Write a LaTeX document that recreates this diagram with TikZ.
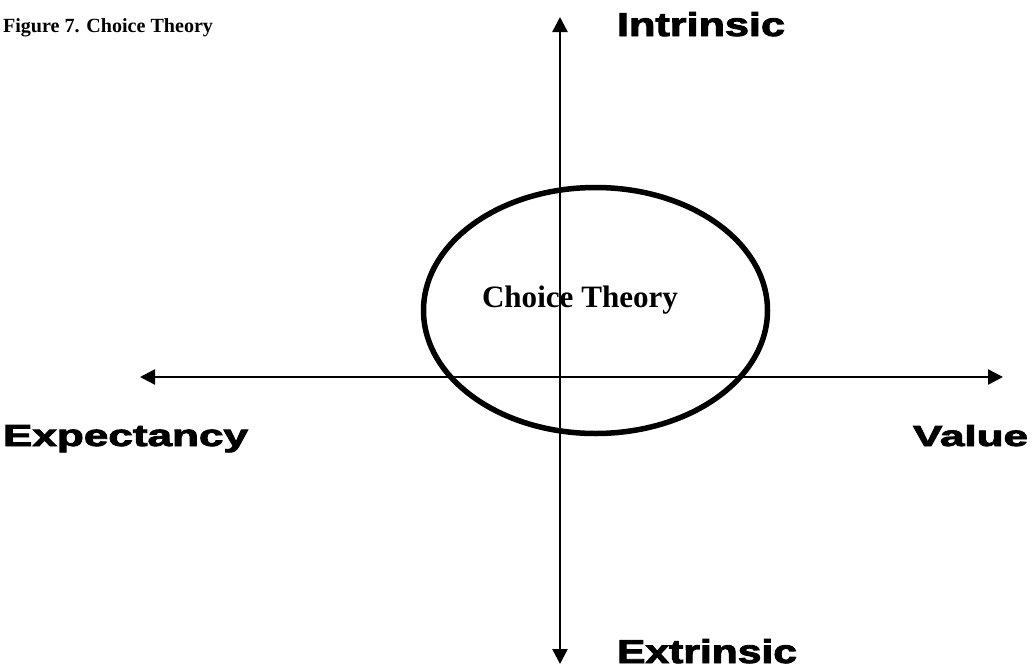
\documentclass[tikz,border=0pt]{standalone}
\usepackage{fontspec}
\usepackage{graphicx}
\setmainfont{Liberation Serif}
\newfontfamily\blkfont{Liberation Sans}[BoldFeatures={FakeBold=2.5}]
\usetikzlibrary{arrows.meta}
\newcommand\biglabel[3]{\resizebox{#1pt}{#2pt}{\blkfont\bfseries #3}}
\tikzset{
  axis/.style={line width=2.5pt,-{Triangle[length=15pt,width=15pt]}},
  lbl/.style={anchor=base west,inner sep=0pt,outer sep=0pt},
}
\begin{document}
\begin{tikzpicture}[x=1pt,y=-1pt]
\useasboundingbox[fill=white] (0,0) rectangle (1034,672);
% axes
\coordinate (top) at (560,17);
\coordinate (bot) at (560,664);
\coordinate (left) at (140,377);
\coordinate (right) at (1003,377);
\coordinate (center) at (560,377);
\draw[axis] (center) -- (top);
\draw[axis] (center) -- (bot);
\draw[axis] (center) -- (left);
\draw[axis] (center) -- (right);
% ellipse
\draw[line width=5.5pt] (595.5,310.5) ellipse [x radius=172, y radius=123];
% labels
\node[lbl] (title) at (3,32) {\resizebox{210pt}{!}{\bfseries Figure 7. Choice Theory}};
\node[lbl] (ct) at (482,307) {\resizebox{196pt}{!}{\bfseries Choice Theory}};
\node[lbl] (intr) at (617,36) {\biglabel{168}{24}{Intrinsic}};
\node[lbl] (extr) at (617,663) {\biglabel{180}{24}{Extrinsic}};
\node[lbl] (expe) at (3,446) {\biglabel{245}{21}{Expectancy}};
\node[lbl] (valu) at (913,446) {\biglabel{115}{21}{Value}};
\end{tikzpicture}
\end{document}
